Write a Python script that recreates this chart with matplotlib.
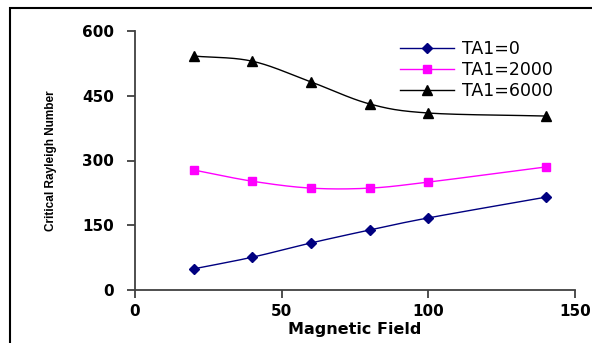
import numpy as np
import matplotlib
matplotlib.use("Agg")
import matplotlib.pyplot as plt
from matplotlib.patches import Rectangle

# ---- data ----
magnetic_field = [20, 40, 60, 80, 100, 140]
ta1_0 = [49, 76, 109, 139, 167, 215]
ta1_2000 = [278, 252, 236, 236, 250, 285]
ta1_6000 = [542, 530, 482, 431, 410, 403]
series_labels = ["TA1=0", "TA1=2000", "TA1=6000"]
x_ticks = [0, 50, 100, 150]
y_ticks = [0, 150, 300, 450, 600]


def smooth(x, y, n=30):
    """Catmull-Rom curve through the data points (Excel-style smoothed line)."""
    x = np.asarray(x, float)
    y = np.asarray(y, float)
    P = np.column_stack([x, y])
    P = np.vstack([P[0] - (P[1] - P[0]), P, P[-1] + (P[-1] - P[-2])])
    out = []
    t = np.linspace(0, 1, n)[:, None]
    for i in range(1, len(P) - 2):
        p0, p1, p2, p3 = P[i - 1], P[i], P[i + 1], P[i + 2]
        seg = 0.5 * ((2 * p1) + (-p0 + p2) * t + (2 * p0 - 5 * p1 + 4 * p2 - p3) * t ** 2
                     + (-p0 + 3 * p1 - 3 * p2 + p3) * t ** 3)
        out.append(seg if i == 1 else seg[1:])
    out = np.vstack(out)
    return out[:, 0], out[:, 1]


plt.rcParams['font.family'] = ['Liberation Sans', 'DejaVu Sans']

fig = plt.figure(figsize=(5.92, 3.43), dpi=100)
ax = fig.add_axes([135 / 592, 1 - 290 / 343, 440 / 592, 259 / 343])

styles = [
    dict(color="#000080", marker="D", ms=5.5),
    dict(color="#FF00FF", marker="s", ms=6),
    dict(color="black", marker="^", ms=7.5),
]
handles = []
for ys, lab, st in zip([ta1_0, ta1_2000, ta1_6000], series_labels, styles):
    sx, sy = smooth(magnetic_field, ys)
    ax.plot(sx, sy, color=st["color"], lw=1.0)
    ax.plot(magnetic_field, ys, ls="none", marker=st["marker"], ms=st["ms"],
            color=st["color"], mec=st["color"])
    h, = ax.plot([], [], color=st["color"], lw=1.0, marker=st["marker"],
                 ms=st["ms"], mec=st["color"], label=lab)
    handles.append(h)

ax.set_xlim(0, 150)
ax.set_ylim(0, 600)
ax.set_xticks(x_ticks)
ax.set_yticks(y_ticks)
for s in ["top", "right"]:
    ax.spines[s].set_visible(False)
for s in ["left", "bottom"]:
    ax.spines[s].set_linewidth(1.3)
    ax.spines[s].set_color("#404040")
ax.tick_params(direction="out", length=6, width=1.3, color="#404040",
               labelsize=11)
ax.tick_params(axis="y", pad=9)
ax.tick_params(axis="x", pad=4)
for lbl in ax.get_xticklabels() + ax.get_yticklabels():
    lbl.set_fontweight("bold")
    lbl.set_family(['DejaVu Sans'])

ax.set_xlabel("Magnetic Field", fontsize=11.5, fontweight="bold", labelpad=2,
              family=['DejaVu Sans'])
ax.set_ylabel("Critical Rayleigh Number", fontsize=8.5, fontweight="bold",
              labelpad=18)

leg = ax.legend(handles=handles, loc="upper left", frameon=False,
                bbox_to_anchor=((393 - 135) / 440, (290 - 33) / 259),
                handlelength=3.1, fontsize=12.5, labelspacing=0.17,
                handletextpad=0.45, borderaxespad=0)
for t in leg.get_texts():
    t.set_family(['DejaVu Sans'])

fig.patches.append(Rectangle((10 / 592, -0.1), 1.2, 1.1 - 8 / 343,
                             transform=fig.transFigure, fill=False,
                             edgecolor="black", lw=1.5))

fig.savefig("out.png", dpi=100)
